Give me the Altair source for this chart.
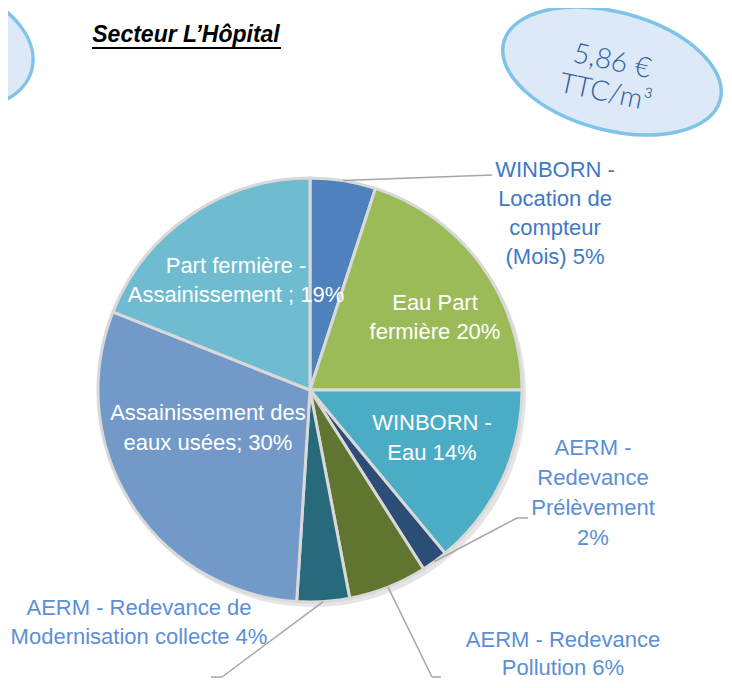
import math
import altair as alt
import pandas as pd

# ---------------- data ----------------
categories = [
    "WINBORN - Location de compteur (Mois)",
    "Eau Part fermière",
    "WINBORN - Eau",
    "AERM - Redevance Prélèvement",
    "AERM - Redevance Pollution",
    "AERM - Redevance de Modernisation collecte",
    "Assainissement des eaux usées",
    "Part fermière - Assainissement",
]
values = [5, 20, 14, 2, 6, 4, 30, 19]
colors = ["#4F81BD", "#9BBB59", "#4BACC6", "#2C4D75", "#5F7530", "#276A7C", "#7399C9", "#6FBCD0"]

label_lines = [
    ["WINBORN -", "Location de", "compteur", "(Mois) 5%"],
    ["Eau Part", "fermière 20%"],
    ["WINBORN -", "Eau  14%"],
    ["AERM -", "Redevance", "Prélèvement", "2%"],
    ["AERM - Redevance", "Pollution 6%"],
    ["AERM - Redevance de", "Modernisation collecte 4%"],
    ["Assainissement des", "eaux usées; 30%"],
    ["Part fermière -", "Assainissement ; 19%"],
]
title_text = "Secteur L\u2019Hôpital"
price_lines = ["5,86 €", "TTC/m³"]

# ---------------- layout (page coords -> chart coords) ----------------
M = 8
W, H = 716, 672
def P(v):
    return v - M

CX, CY, R = P(310), P(390), 212
FONT = "Liberation Sans"
FS = 22

inside = {  # index: (x, first-line y, lineHeight)
    7: (236, 266, 29),
    1: (435, 303, 29),
    2: (432, 423, 30),
    6: (208, 413, 30),
}
outside = {  # index: (x, first-line y, lineHeight, color, leader path end points)
    0: (555, 170, 29, "#3F79C6", [(492, 175)]),
    3: (593, 448, 30, "#5B8FD6", [(517, 518), (528, 518)]),
    4: (563, 640, 28, "#5B8FD6", [(432, 677), (441, 677)]),
    5: (139, 608, 29, "#5B8FD6", [(222, 677), (211, 677)]),
}

one = pd.DataFrame({"a": [0]})
df = pd.DataFrame({"cat": categories, "val": values, "idx": list(range(len(values)))})

layers = []

c = 0.5523
def ell_path(k):
    return (f"M 1 0 C 1 {c*k:.4f} {c:.4f} {k:.4f} 0 {k:.4f} "
            f"C {-c:.4f} {k:.4f} -1 {c*k:.4f} -1 0 "
            f"C -1 {-c*k:.4f} {-c:.4f} {-k:.4f} 0 {-k:.4f} "
            f"C {c:.4f} {-k:.4f} 1 {-c*k:.4f} 1 0 Z")

def ellipse(cx, cy, a, b, ang):
    return alt.Chart(one).mark_point(
        shape=ell_path(b / a), size=(2 * a) ** 2, angle=ang,
        filled=True, fill="#DDE9F6", fillOpacity=1, stroke="#7EC3E8",
        strokeWidth=3.5, opacity=1,
    ).encode(x=alt.value(P(cx)), y=alt.value(P(cy)))

layers.append(ellipse(612, 71, 112, 59, 15))
layers.append(ellipse(-62, 45, 97, 62, 15))

# pie shadow
layers.append(
    alt.Chart(df).mark_arc(outerRadius=R + 1, color="#D0D0D0", opacity=0.55).encode(
        theta=alt.Theta("val:Q", stack=True),
        order=alt.Order("idx:Q"),
        x=alt.value(CX + 3), y=alt.value(CY + 4),
    )
)

# pie
layers.append(
    alt.Chart(df).mark_arc(outerRadius=R, stroke="#D9D9D9", strokeWidth=3).encode(
        theta=alt.Theta("val:Q", stack=True),
        order=alt.Order("idx:Q"),
        color=alt.Color("cat:N", scale=alt.Scale(domain=categories, range=colors), legend=None),
        x=alt.value(CX), y=alt.value(CY),
    )
)

# leader lines starting from slice mid-angle on rim
total = sum(values)
mids = []
cum = 0
for v in values:
    mids.append((cum + v / 2) / total * 2 * math.pi)
    cum += v

for i, (lx, ly, lh, col, pts) in outside.items():
    a = mids[i]
    sx, sy = CX + R * math.sin(a), CY - R * math.cos(a)
    prev = (sx, sy)
    for (px, py) in pts:
        nx, ny = P(px), P(py)
        layers.append(
            alt.Chart(one).mark_rule(color="#A6A6A6", strokeWidth=1.5).encode(
                x=alt.value(prev[0]), y=alt.value(prev[1]),
                x2=alt.value(nx), y2=alt.value(ny),
            )
        )
        prev = (nx, ny)

# inside labels
for i, (lx, ly, lh) in inside.items():
    layers.append(
        alt.Chart(one).mark_text(
            text=label_lines[i], font=FONT, fontSize=FS, lineHeight=lh,
            color="white", align="center", baseline="middle",
        ).encode(x=alt.value(P(lx)), y=alt.value(P(ly)))
    )

# outside labels
for i, (lx, ly, lh, col, pts) in outside.items():
    layers.append(
        alt.Chart(one).mark_text(
            text=label_lines[i], font=FONT, fontSize=FS, lineHeight=lh,
            color=col, align="center", baseline="middle",
        ).encode(x=alt.value(P(lx)), y=alt.value(P(ly)))
    )

# title with underline
layers.append(
    alt.Chart(one).mark_text(
        text=title_text, font=FONT, fontSize=23, fontWeight="bold", fontStyle="italic",
        color="black", align="center", baseline="middle",
    ).encode(x=alt.value(P(186)), y=alt.value(P(35)))
)
layers.append(
    alt.Chart(one).mark_rule(color="black", strokeWidth=2).encode(
        x=alt.value(P(92)), x2=alt.value(P(281)), y=alt.value(P(48)), y2=alt.value(P(48))
    )
)

# price text in ellipse
layers.append(
    alt.Chart(one).mark_text(
        text=price_lines, font="Lato, Open Sans, sans-serif", fontWeight=300, fontSize=28,
        lineHeight=32, color="#2E5E9E", align="center", baseline="middle", angle=12,
    ).encode(x=alt.value(P(612)), y=alt.value(P(62)))
)

chart = alt.layer(*layers).properties(
    width=W, height=H, padding=0,
    autosize=alt.AutoSizeParams(type="none"),
    background="white",
).configure_view(stroke=None)

chart.save("out.html", embed_options={"renderer": "svg", "actions": False})
